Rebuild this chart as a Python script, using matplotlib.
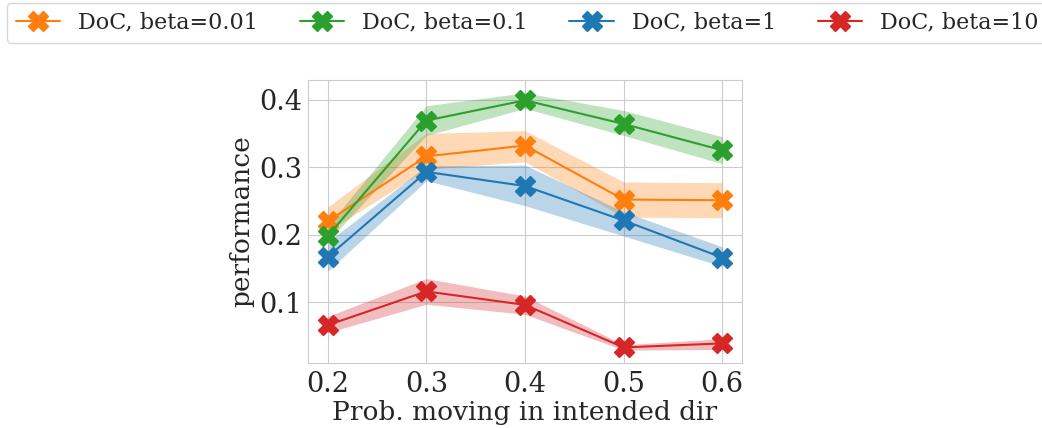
import matplotlib
matplotlib.use("Agg")
import matplotlib.pyplot as plt
import seaborn as sns

sns.set_style("whitegrid")
plt.rcParams["font.family"] = ["DejaVu Serif"]

probs = [0.2, 0.3, 0.4, 0.5, 0.6]
labels = ["DoC, beta=0.01", "DoC, beta=0.1", "DoC, beta=1", "DoC, beta=10"]
colors = ["#ff7f0e", "#2ca02c", "#1f77b4", "#d62728"]

mean_b001 = [0.220, 0.316, 0.332, 0.252, 0.251]
low_b001 = [0.205, 0.297, 0.308, 0.226, 0.225]
high_b001 = [0.241, 0.350, 0.354, 0.278, 0.277]

mean_b01 = [0.198, 0.369, 0.399, 0.364, 0.325]
low_b01 = [0.190, 0.347, 0.387, 0.347, 0.305]
high_b01 = [0.213, 0.391, 0.410, 0.384, 0.345]

mean_b1 = [0.167, 0.293, 0.272, 0.221, 0.166]
low_b1 = [0.146, 0.280, 0.243, 0.198, 0.153]
high_b1 = [0.189, 0.302, 0.303, 0.234, 0.182]

mean_b10 = [0.066, 0.116, 0.096, 0.033, 0.039]
low_b10 = [0.055, 0.097, 0.082, 0.029, 0.030]
high_b10 = [0.079, 0.135, 0.109, 0.037, 0.046]

means = [mean_b001, mean_b01, mean_b1, mean_b10]
lows = [low_b001, low_b01, low_b1, low_b10]
highs = [high_b001, high_b01, high_b1, high_b10]

fig = plt.figure(figsize=(10.42, 4.28), dpi=100)
ax = fig.add_axes([308 / 1042, 1 - 363 / 428, 434 / 1042, 283 / 428])

handles = []
for m, lo, hi, c, lab in zip(means, lows, highs, colors, labels):
    ax.fill_between(probs, lo, hi, color=c, alpha=0.3, linewidth=0)
    h, = ax.plot(probs, m, color=c, marker="X", markersize=14, linewidth=1.5, label=lab)
    handles.append(h)

ax.set_xticks(probs)
ax.set_yticks([0.1, 0.2, 0.3, 0.4])
ax.tick_params(axis="x", labelsize=19.5, pad=2)
ax.tick_params(axis="y", labelsize=19.5, length=0, pad=4)
ax.set_xlabel("Prob. moving in intended dir", fontsize=19, labelpad=2)
ax.set_ylabel("performance", fontsize=19, labelpad=4)

fig.legend(handles=handles, loc="upper left", ncol=4, bbox_to_anchor=(7 / 1042, 1 - 3 / 428),
           fontsize=16, frameon=True, handlelength=2.0, columnspacing=1.88,
           borderaxespad=0)

fig.savefig("out.png", dpi=100)
